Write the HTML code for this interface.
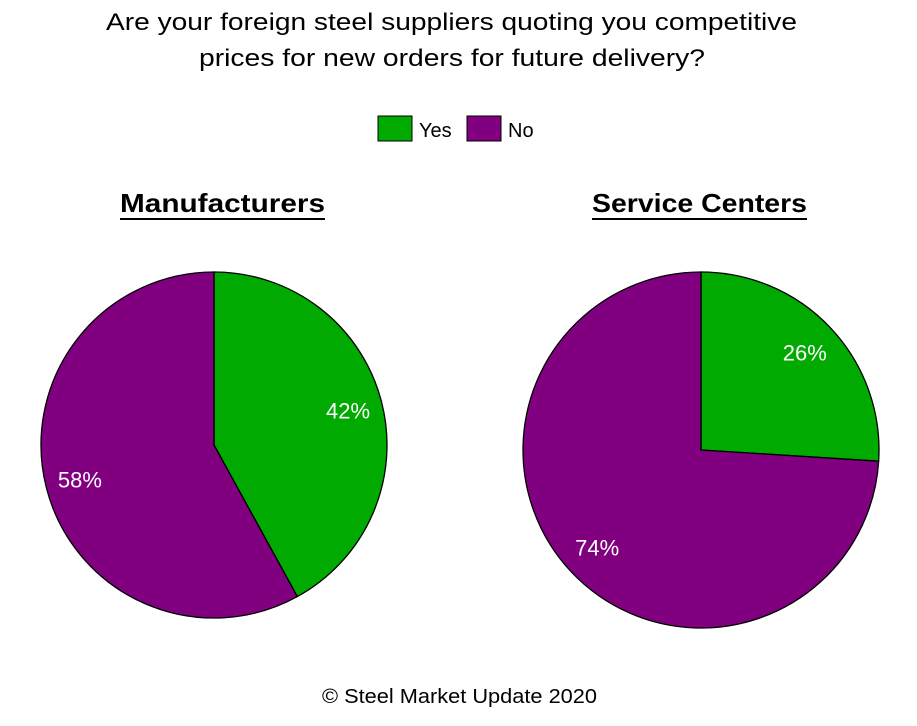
<!DOCTYPE html>
<html><head><meta charset="utf-8"><style>
body{margin:0;background:#fff;width:917px;height:721px;overflow:hidden;font-family:"Liberation Sans",sans-serif}
</style></head><body>
<svg width="917" height="721" font-family="Liberation Sans, sans-serif">
<text x="106" y="30" textLength="691" lengthAdjust="spacingAndGlyphs" font-size="24" fill="#000">Are your foreign steel suppliers quoting you competitive</text>
<text x="199" y="66" textLength="506" lengthAdjust="spacingAndGlyphs" font-size="24" fill="#000">prices for new orders for future delivery?</text>
<g>
<rect x="378" y="116" width="34" height="25" fill="#00aa00" stroke="#000"/>
<text x="419" y="137" font-size="20">Yes</text>
<rect x="467" y="116" width="34" height="25" fill="#800080" stroke="#000"/>
<text x="508" y="137" font-size="20">No</text>
</g>
<text x="120" y="212" textLength="205" lengthAdjust="spacingAndGlyphs" font-size="26" font-weight="bold">Manufacturers</text>
<line x1="120" y1="219" x2="325" y2="219" stroke="#000" stroke-width="2"/>
<text x="592" y="212" textLength="215" lengthAdjust="spacingAndGlyphs" font-size="26" font-weight="bold">Service Centers</text>
<line x1="592" y1="219" x2="807" y2="219" stroke="#000" stroke-width="2"/>
<g id="pies"></g>
<text x="322" y="703" textLength="275" lengthAdjust="spacingAndGlyphs" font-size="20">© Steel Market Update 2020</text>
</svg>
<script>
const categories = ["Yes", "No"];
const manufacturersValues = [42, 58];
const serviceCentersValues = [26, 74];
const colors = ["#00aa00", "#800080"];
const NS = "http://www.w3.org/2000/svg";
const g = document.getElementById("pies");
function drawPie(vals, cx, cy, r, name) {
  const total = vals.reduce((a, b) => a + b, 0);
  let a0 = 0;
  vals.forEach((v, i) => {
    const a1 = a0 + v / total * 2 * Math.PI;
    const x0 = cx + r * Math.sin(a0), y0 = cy - r * Math.cos(a0);
    const x1 = cx + r * Math.sin(a1), y1 = cy - r * Math.cos(a1);
    const large = (a1 - a0) > Math.PI ? 1 : 0;
    const p = document.createElementNS(NS, "path");
    p.setAttribute("d", `M${cx},${cy} L${x0},${y0} A${r},${r} 0 ${large} 1 ${x1},${y1} Z`);
    p.setAttribute("fill", colors[i]);
    p.setAttribute("stroke", "#000");
    p.setAttribute("stroke-width", "1.3");
    
    
    g.appendChild(p);
    const am = (a0 + a1) / 2;
    const t = document.createElementNS(NS, "text");
    t.setAttribute("x", cx + 0.8 * r * Math.sin(am));
    t.setAttribute("y", cy - 0.8 * r * Math.cos(am) + 8);
    t.setAttribute("text-anchor", "middle");
    t.setAttribute("font-size", "22");
    t.setAttribute("fill", "#fff");
    t.textContent = v + "%";
    
    
    g.appendChild(t);
    a0 = a1;
  });
}
drawPie(manufacturersValues, 214, 445, 173, "manufacturers");
drawPie(serviceCentersValues, 701, 450, 178, "service-centers");
</script>
</body></html>
